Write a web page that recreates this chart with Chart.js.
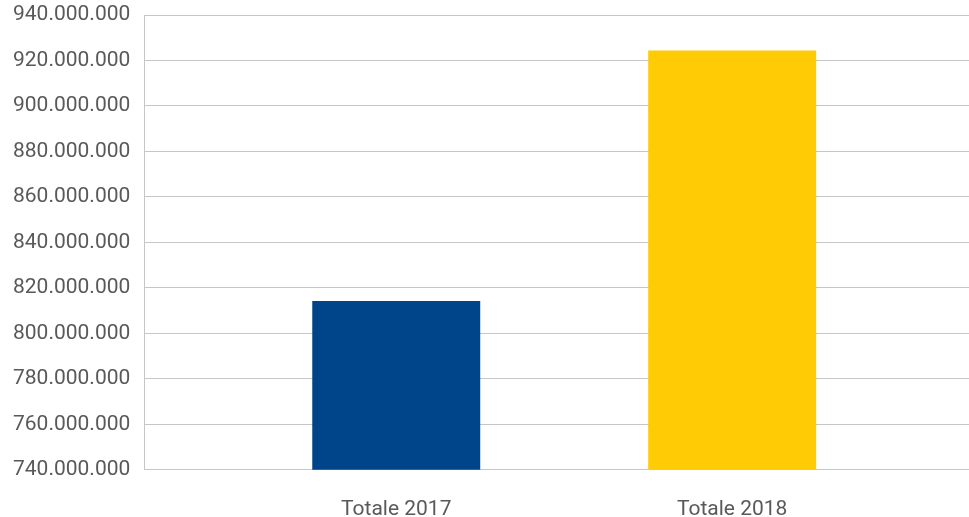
<!DOCTYPE html>
<html>
<head>
<meta charset="utf-8">
<script src="https://cdn.jsdelivr.net/npm/chart.js@4/dist/chart.umd.min.js"></script>
<style>
  html, body { margin: 0; padding: 0; background: #fff; }
  #wrap { width: 969px; height: 517px; }
</style>
</head>
<body>
<div id="wrap"><canvas id="chart" width="969" height="517"></canvas></div>
<script>
const categories = ['Totale 2017', 'Totale 2018'];
const totals = [814200000, 924400000];
const barColors = ['#004589', '#ffcb05'];
const yTicks = { min: 740000000, max: 940000000, step: 20000000 };

const fmt = v => String(Math.round(v)).replace(/\B(?=(\d{3})+(?!\d))/g, '.');

const ctx = document.getElementById('chart').getContext('2d');
new Chart(ctx, {
    type: 'bar',
    data: {
        datasets: [{
            data: totals.map((v, i) => ({ x: i, y: v })),
            backgroundColor: barColors,
            borderWidth: 0,
            categoryPercentage: 1,
            barPercentage: 0.5
        }]
    },
    options: {
        responsive: false,
        animation: false,
        layout: { padding: { left: 13, right: 0, top: 15, bottom: -32 } },
        plugins: { legend: { display: false }, tooltip: { enabled: false } },
        scales: {
            x: {
                type: 'linear',
                offset: false,
                min: -0.75,
                max: 1.705,
                afterBuildTicks: scale => { scale.ticks = categories.map((c, i) => ({ value: i })); },
                grid: { display: false, drawTicks: false },
                border: { display: false },
                ticks: {
                    padding: 27,
                    color: '#595959',
                    font: { family: 'Roboto', size: 21 },
                    maxRotation: 0,
                    autoSkip: false,
                    callback: v => categories[v] ?? ''
                }
            },
            y: {
                min: yTicks.min,
                max: yTicks.max,
                grid: { color: '#c6c6c6', lineWidth: 1, drawTicks: true, tickLength: 14, tickColor: 'rgba(0,0,0,0)' },
                border: { display: true, color: '#c6c6c6' },
                ticks: {
                    stepSize: yTicks.step,
                    padding: 0,
                    color: '#595959',
                    font: { family: 'Roboto', size: 21 },
                    callback: v => fmt(v)
                }
            }
        }
    }
});
</script>
</body>
</html>
